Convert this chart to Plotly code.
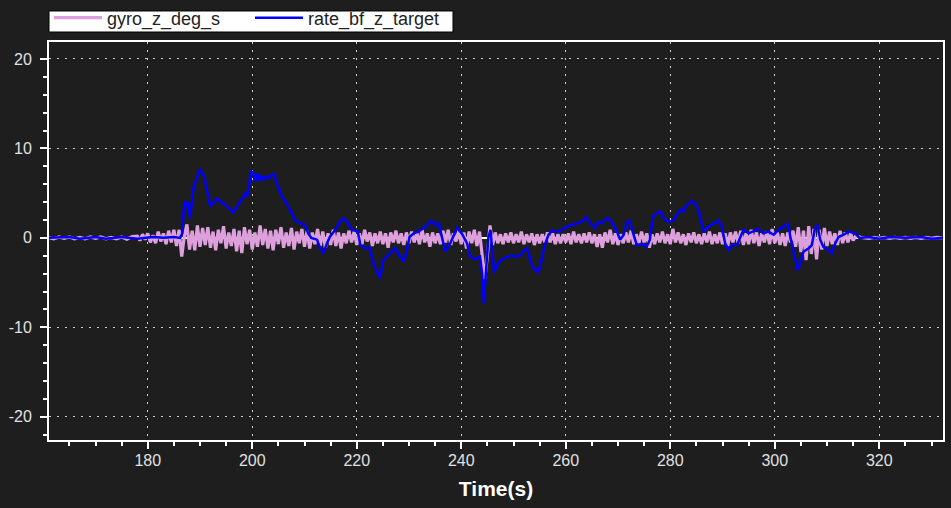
import numpy as np
import plotly.graph_objects as go

# ---------------- data ----------------
# gyro_z_deg_s : quiet segments (1 s sampling) and active segment (0.5 s sampling)
gyro_pre_t = [161, 162, 163, 164, 165, 166, 167, 168, 169, 170, 171, 172, 173, 174, 175, 176, 177]
gyro_pre_v = [0.05, -0.1, 0.1, -0.05, 0.1, -0.1, 0.05, -0.1, 0.1, -0.05, 0.1, -0.1, 0.05, -0.1, 0.1, -0.15, 0.15]

gyro_active_start = 178.0
gyro_active_step = 0.5
gyro_active_v = [
    # 178-186
    0.2, -0.3, 0.4, -0.2, 0.5, -0.5, 0.3, -0.6, 0.7, -0.4, 0.5, -0.7, 0.8, -0.5, 0.9, -0.9,
    # 186-190
    0.9, -2.1, 0.2, 1.5, -1.3, 0.8, -1.4, 1.4,
    # 190-204
    -1.0, 1.1, -0.8, 1.2, -1.1, 0.7, -1.4, 0.9, -0.6, 1.3, -1.2, 0.6, -0.9, 1.0,
    -1.5, 0.8, -1.7, 1.2, -0.7, 0.9, -1.3, 0.6, -1.0, 1.4, -0.8, 1.0, -1.2, 0.8,
    # 204-216
    -1.4, 0.9, -0.7, 1.2, -1.1, 0.6, -0.9, 1.1, -1.3, 0.7, -0.6, 1.0,
    -1.0, 0.8, -1.2, 0.6, -0.7, 1.0, -0.9, 0.7, -1.1, 0.5, -0.8, 0.9,
    # 216-244
    -0.9, 0.6, -1.2, 0.5, -0.6, 0.8, -0.5, 0.7, -0.8, 0.5, -0.7, 0.9, -0.4, 0.6,
    -0.9, 0.5, -0.6, 0.7, -0.7, 0.5, -1.1, 0.6, -0.5, 0.8, -0.6, 0.5, -0.8, 0.6,
    -0.6, 0.7, -0.5, 0.6, -0.7, 0.9, -0.5, 0.5, -1.0, 0.6, -0.6, 0.5, -0.7, 0.8,
    -0.5, 0.9, -0.8, 0.5, -0.4, 0.8, -0.7, 0.6, -1.2, 0.7, -0.6, 0.9, -0.9, 0.7,
    # 244-247
    -1.6, -4.6, -2.0, 1.4, -0.8, 0.6,
    # 247-290
    -0.6, 0.4, -0.7, 0.5, -0.5, 0.6, -0.6, 0.4, -0.5, 0.7, -0.7, 0.4, -0.5, 0.5, -0.8, 0.4, -0.6, 0.4, -0.5, 0.6,
    -0.5, 0.5, -0.7, 0.4, -0.6, 0.4, -0.5, 0.5, -0.7, 0.7, -0.5, 0.4, -0.6, 0.5, -0.5, 0.6, -0.6, 0.4, -1.0, 0.4,
    -1.1, 0.6, -0.5, 0.9, -0.7, 0.5, -0.8, 0.4, -0.6, 0.6, -0.5, 0.8, -0.7, 0.4, -0.6, 0.7, -0.5, 0.5, -1.1, 0.4,
    -0.7, 0.5, -0.5, 0.7, -0.6, 0.4, -0.7, 1.0, -0.5, 0.6, -0.6, 0.4, -0.8, 0.5, -0.5, 0.6, -0.6, 0.4, -0.7, 0.5,
    -0.5, 0.7, -0.7, 0.4, -0.6, 0.6,
    # 290-316
    -0.7, 0.5, -0.9, 0.6, -0.5, 0.7, -0.6, 0.8, -0.8, 0.5, -0.7, 0.9, -0.6, 0.6, -0.9, 0.5, -0.5, 0.7, -0.7, 1.0,
    -0.6, 0.6, -0.8, 0.5, -0.9, 0.6, -0.5, 0.8, -1.0, 1.2, -1.6, 0.8, -2.5, 1.3, -1.8, 1.0, -2.4, 0.9, -1.3, 1.1,
    -0.9, 0.7, -0.7, 0.5, -0.8, 0.8, -0.6, 0.6, -0.5, 0.5, -0.3, 0.2,
]

gyro_post_t = [316.5, 318, 319, 320, 321, 322, 323, 324, 325, 326, 327, 328, 329, 330, 331, 332]
gyro_post_v = [0.05, -0.05, 0.05, -0.05, 0.05, -0.05, 0.05, -0.05, 0.05, -0.05, 0.05, -0.05, 0.05, -0.05, 0.05, 0.0]

# rate_bf_z_target
rate_t = [161.1, 165, 167, 170, 172, 175, 178, 181, 183, 185, 186.2,
          186.6, 187.0, 187.4, 187.7, 188.1, 188.8, 189.5, 190.0, 190.8, 191.4, 192.0, 192.7, 193.3, 193.9,
          194.9, 195.5, 196.4, 197.1, 197.8, 198.7, 199.0, 199.8, 200.3, 200.6, 201.0, 201.3, 201.6, 202.1,
          202.6, 203.1, 203.6, 204.2, 204.7, 205.4, 206.3, 207.3, 208.2, 209.2, 210.1, 210.7, 211.3, 212.4,
          213.0, 213.6, 214.3, 214.9, 215.9, 216.8, 217.5, 218.2, 219.1, 220.2, 220.7, 221.6, 222.5, 223.2,
          224.4, 225.1, 226.1, 227.4, 228.3, 229.0, 229.6, 230.1, 230.9, 231.8, 232.8, 233.7, 234.3, 235.0,
          235.7, 236.3, 236.9, 237.6, 238.2, 239.2, 240.1, 241.1, 241.7, 242.7, 243.6, 244.0, 244.3, 244.6,
          245.2, 245.6, 246.3, 247.1, 248.1, 249.0, 249.7, 250.3, 251.3, 251.9, 252.6, 253.2, 253.8, 254.8,
          255.4, 256.1, 256.7, 257.4, 258.3, 259.3, 260.2, 261.2, 262.1, 263.1, 263.9, 264.7, 265.6, 266.3,
          266.9, 267.9, 268.5, 269.2, 269.8, 270.4, 271.1, 271.7, 272.2, 272.9, 273.6, 274.6, 275.5, 276.1,
          276.7, 277.5, 278.1, 279.0, 280.0, 280.7, 281.4, 282.0, 282.5, 283.2, 284.2, 284.8, 285.4, 286.1,
          286.4, 287.0, 288.0, 288.9, 289.2, 289.9, 290.5, 291.2, 291.8, 292.8, 294.0, 295.0, 295.8, 296.9,
          297.8, 298.8, 299.8, 300.7, 301.7, 302.6, 303.0, 303.6, 304.4, 304.9, 305.5, 306.5, 307.1, 307.7,
          308.2, 308.7, 309.3, 310.3, 310.9, 311.6, 312.2, 313.2, 314.1, 315.4, 316.2, 318, 320, 322, 325,
          328, 330, 332.2]
rate_v = [0.0, 0.1, -0.1, 0.1, -0.1, 0.1, -0.1, 0.1, 0.0, 0.1, 0.0,
          0.5, 4.2, 3.5, 4.0, 2.2, 5.7, 7.0, 7.7, 6.85, 5.0, 3.5, 4.05, 4.4, 4.05,
          3.7, 3.3, 2.8, 3.5, 4.2, 5.0, 4.6, 7.5, 7.0, 6.3, 7.2, 6.4, 7.0, 6.5,
          6.9, 6.6, 7.0, 7.1, 6.1, 5.0, 4.05, 3.1, 2.0, 1.6, 1.45, 0.5, 0.0, -0.2,
          -1.15, -1.7, -0.6, 0.15, 0.9, 1.8, 2.2, 1.8, 0.9, 0.7, -0.8, -1.15, -1.15, -2.8,
          -4.5, -2.5, -1.9, -1.15, -2.1, -2.65, -1.35, 0.1, 0.5, 0.7, 1.1, 1.65, 1.9, 1.45,
          1.65, 0.1, -1.5, -1.0, -0.2, 1.1, 0.5, -0.6, -2.1, -2.4, -2.1, -4.0, -7.3, -4.7,
          0.1, 0.9, -3.9, -2.8, -2.3, -2.1, -1.95, -2.1, -1.95, -1.5, -1.15, -2.45, -3.4, -3.85,
          -2.45, -0.6, 0.35, 0.8, 0.7, 0.9, 1.25, 1.45, 1.55, 1.8, 2.3, 1.65, 1.1, 1.8,
          1.65, 2.2, 2.05, 1.25, 0.7, -0.2, 0.35, 1.8, 1.9, 0.5, -0.8, -0.7, -1.0, -0.2,
          2.4, 2.75, 2.95, 2.0, 1.8, 2.05, 2.75, 3.2, 2.95, 3.7, 4.15, 3.85, 3.1, 1.25,
          0.7, 1.1, 1.45, 1.8, 1.95, 1.25, -0.6, -1.35, -0.8, -0.8, 0.9, 0.5, 0.7, 1.0,
          0.5, 0.7, 0.35, 0.9, 1.25, 1.55, 0.0, -1.7, -3.6, -2.8, -1.55, -1.15, -0.8, 1.1,
          1.35, -0.2, -1.0, -1.35, -1.7, -0.6, 0.1, 0.35, 0.7, 0.5, 0.0, 0.1, -0.1, 0.1, 0.0,
          0.1, -0.1, 0.0]

x_ticks = [180, 200, 220, 240, 260, 280, 300, 320]
y_ticks = [-20, -10, 0, 10, 20]
y_tick_labels = ["-20", "-10", "0", "10", "20"]

# ---------------- build series ----------------
gyro_active_t = list(gyro_active_start + gyro_active_step * np.arange(len(gyro_active_v)))
gyro_t = gyro_pre_t + gyro_active_t + gyro_post_t
gyro_v = gyro_pre_v + gyro_active_v + gyro_post_v

BG = "#1e1e1e"
FONT = "Liberation Sans, Arial, sans-serif"

fig = go.Figure()
fig.add_trace(go.Scatter(x=gyro_t, y=gyro_v, mode="lines", name="gyro_z_deg_s",
                         line=dict(color="#dda0dd", width=3.2)))
fig.add_trace(go.Scatter(x=rate_t, y=rate_v, mode="lines", name="rate_bf_z_target",
                         line=dict(color="#0000ff", width=2.5)))

axis_common = dict(
    showline=True, linecolor="white", linewidth=2, mirror=True,
    ticks="outside", tickcolor="white", ticklen=7, tickwidth=2,
    showgrid=True, gridcolor="#d0d0d0", griddash="2px,6px", gridwidth=1,
    tickfont=dict(family=FONT, size=16, color="#e0e0e0"),
)

# legend frame (white box with black border) drawn behind the legend
fig.add_shape(type="rect", xref="paper", yref="paper",
              x0=0.0, x1=0.4519, y0=1.0251, y1=1.0779,
              fillcolor="white", line=dict(color="black", width=1), layer="below")

fig.update_layout(
    width=951, height=508,
    paper_bgcolor=BG, plot_bgcolor=BG,
    margin=dict(l=49, r=8, t=42, b=68, autoexpand=False),
    font=dict(family=FONT, color="#e0e0e0"),
    showlegend=True,
    legend=dict(
        orientation="h", x=0.0, y=1.0603, xanchor="left", yanchor="middle",
        bgcolor="rgba(0,0,0,0)", borderwidth=0,
        font=dict(family=FONT, size=18, color="#222222"),
        itemwidth=48, tracegroupgap=0, entrywidth=138,
    ),
    xaxis=dict(
        range=[161.1, 332.2], tickvals=x_ticks,
        zeroline=False, ticklabelstandoff=-2,
        minor=dict(ticks="outside", dtick=5, tick0=0, ticklen=4, tickcolor="white", showgrid=False),
        title=dict(text="<b>Time(s)</b>", font=dict(family=FONT, size=21, color="white"), standoff=13),
        **axis_common,
    ),
    yaxis=dict(
        range=[-22.6, 21.9], tickvals=y_ticks, ticktext=y_tick_labels,
        zeroline=True, zerolinecolor="white", zerolinewidth=2, ticklabelstandoff=5,
        minor=dict(ticks="outside", dtick=2, tick0=0, ticklen=4, tickcolor="white", showgrid=False),
        **axis_common,
    ),
)

fig.write_html("out.html", config={"displayModeBar": False},
               post_script="document.body.style.margin='0';document.body.style.background='#1e1e1e';")
